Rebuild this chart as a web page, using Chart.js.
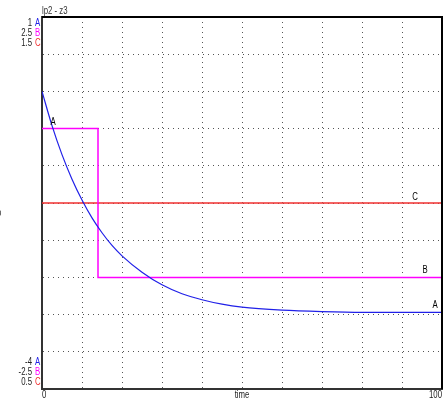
<!DOCTYPE html>
<html>
<head>
<meta charset="utf-8">
<script src="https://cdn.jsdelivr.net/npm/chart.js@4.4.0/dist/chart.umd.min.js"></script>
<style>
  html, body { margin: 0; padding: 0; background: #fff; }
  #wrap { width: 448px; height: 399px; }
</style>
</head>
<body>
<div id="wrap"><canvas id="chart" width="448" height="399"></canvas></div>
<script>
/* ── Data ── */
const chartTitle = 'lp2 - z3';
const xTitle     = 'time';
const yTitle     = 'o';

const timeA   = [0, 2.5, 5, 7.5, 10, 12.5, 15, 17.5, 20, 25, 30, 35, 40, 45, 50, 60, 70, 80, 90, 100];
const valuesA = [0, -0.46, -0.85, -1.18, -1.46, -1.70, -1.90, -2.07, -2.21, -2.43, -2.60, -2.72, -2.80, -2.86, -2.90, -2.94, -2.96, -2.97, -2.97, -2.97];

const timeB   = [0, 14, 14, 100];
const valuesB = [1, 1, -1, -1];

const timeC   = [0, 100];
const valuesC = [1, 1];

// axis ranges per series (bottom / top of the plot)
const seriesNames  = ['A', 'B', 'C'];
const seriesColors = ['#2020e8', '#ff00ff', '#f03030'];
const axisMin      = [-4, -2.5, 0.5];
const axisMax      = [1, 2.5, 1.5];
const xMin = 0, xMax = 100;

const FONT = '10px "Liberation Sans", Arial, sans-serif';
const SQUEEZE = 0.78;   // reference uses a condensed face

const pts = (xs, ys) => xs.map((x, i) => ({ x, y: ys[i] }));

// condensed text helper
function txt(ctx, s, x, y, align, color) {
  ctx.save();
  ctx.translate(x, y);
  ctx.scale(SQUEEZE, 1);
  ctx.textAlign = align;
  ctx.fillStyle = color;
  ctx.fillText(s, 0, 0);
  ctx.restore();
}

/* ── Labels and frame drawn on top ── */
const overlay = {
  id: 'overlay',
  afterDraw(chart) {
    const { ctx, chartArea: a, scales } = chart;
    ctx.save();

    // solid top / right frame
    ctx.strokeStyle = '#000';
    ctx.lineWidth = 2;
    ctx.beginPath();
    ctx.moveTo(a.left, a.top);
    ctx.lineTo(a.right, a.top);
    ctx.lineTo(a.right, a.bottom);
    ctx.stroke();

    ctx.font = FONT;
    ctx.textBaseline = 'middle';

    // axis range labels, top and bottom
    seriesNames.forEach((n, i) => {
      const yTop = a.top + 6 + i * 10;
      const yBot = a.bottom - 27 + i * 10;
      txt(ctx, String(axisMax[i]), a.left - 10, yTop, 'right', '#222');
      txt(ctx, String(axisMin[i]), a.left - 10, yBot, 'right', '#222');
      txt(ctx, n, a.left - 7, yTop, 'left', seriesColors[i]);
      txt(ctx, n, a.left - 7, yBot, 'left', seriesColors[i]);
    });

    // title + axis titles
    txt(ctx, chartTitle, a.left, a.top - 6, 'left', '#333');
    txt(ctx, yTitle, -3, (a.top + a.bottom) / 2 + 10, 'left', '#333');
    txt(ctx, String(xMin), a.left, a.bottom + 6, 'left', '#222');
    txt(ctx, xTitle, (a.left + a.right) / 2, a.bottom + 6, 'center', '#222');
    txt(ctx, String(xMax), a.right, a.bottom + 6, 'right', '#222');

    // series labels at the line ends
    const xa = scales.x;
    txt(ctx, 'A', xa.getPixelForValue(timeA[timeA.length - 1]) - 7,
      scales.yA.getPixelForValue(valuesA[valuesA.length - 1]) - 7, 'center', '#000');
    txt(ctx, 'B', xa.getPixelForValue(timeB[timeB.length - 1]) - 17,
      scales.yB.getPixelForValue(valuesB[valuesB.length - 1]) - 7, 'center', '#000');
    txt(ctx, 'C', xa.getPixelForValue(timeC[timeC.length - 1]) - 27,
      scales.yC.getPixelForValue(valuesC[valuesC.length - 1]) - 6, 'center', '#000');
    txt(ctx, 'A', xa.getPixelForValue(timeB[0]) + 11,
      scales.yB.getPixelForValue(valuesB[0]) - 6, 'center', '#000');

    ctx.restore();
  }
};

new Chart(document.getElementById('chart').getContext('2d'), {
  type: 'line',
  data: {
    datasets: [
      {
        label: 'A', data: pts(timeA, valuesA), yAxisID: 'yA',
        borderColor: seriesColors[0], borderWidth: 1.2,
        cubicInterpolationMode: 'monotone', pointRadius: 0
      },
      {
        label: 'B', data: pts(timeB, valuesB), yAxisID: 'yB',
        borderColor: seriesColors[1], borderWidth: 1.5, pointRadius: 0, tension: 0
      },
      {
        label: 'C', data: pts(timeC, valuesC), yAxisID: 'yC',
        borderColor: seriesColors[2], borderWidth: 1.5, pointRadius: 0, tension: 0
      }
    ]
  },
  options: {
    responsive: false,
    animation: false,
    layout: { padding: { left: 42, top: 17, right: 6, bottom: 10 } },
    plugins: { legend: { display: false }, tooltip: { enabled: false } },
    scales: {
      x: {
        type: 'linear', min: xMin, max: xMax,
        ticks: { display: false, stepSize: 10 },
        grid: { color: '#555', drawTicks: false },
        border: { color: '#333', width: 2, dash: [1, 4] }
      },
      yA: {
        type: 'linear', position: 'left', min: axisMin[0], max: axisMax[0],
        ticks: { display: false, stepSize: 0.5 },
        grid: { color: '#555', drawTicks: false },
        border: { color: '#333', width: 2, dash: [1, 4] }
      },
      yB: { type: 'linear', display: false, min: axisMin[1], max: axisMax[1] },
      yC: { type: 'linear', display: false, min: axisMin[2], max: axisMax[2] }
    }
  },
  plugins: [overlay]
});
</script>
</body>
</html>
